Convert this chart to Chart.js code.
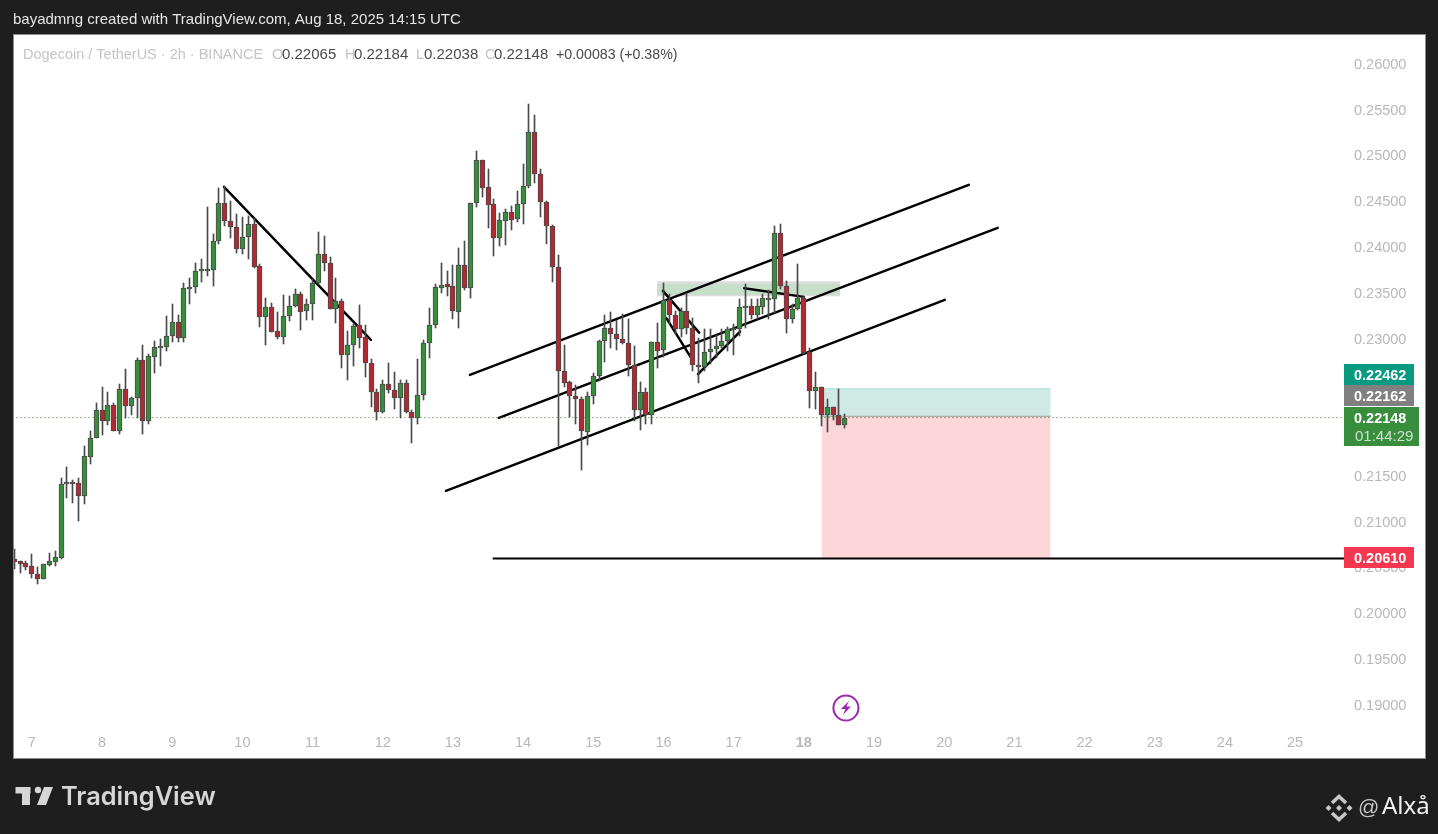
<!DOCTYPE html>
<html>
<head>
<meta charset="utf-8">
<title>Dogecoin / TetherUS</title>
<style>
  html, body { margin: 0; padding: 0; background: #1e1e1e; }
  canvas { display: block; }
</style>
<script src="https://cdn.jsdelivr.net/npm/chart.js@4/dist/chart.umd.min.js"></script>
</head>
<body>
<canvas id="chart" width="1438" height="834"></canvas>
<script>
// candles, 2h bars, oldest first
var opens = [.20602,.20580,.20558,.20526,.20438,.20390,.20543,.20576,.20619,.21421,.21446,.21432,.21296,.21722,.21923,.22229,.22115,.22284,.22006,.22458,.22279,.22360,.22775,.22115,.22814,.22917,.22924,.23037,.23190,.23022,.23561,.23579,.23747,.23758,.23758,.24075,.24490,.24293,.24228,.23987,.24118,.24260,.23802,.23245,.23354,.23092,.23026,.23256,.23365,.23496,.23310,.23387,.23616,.23933,.23834,.23332,.23419,.22830,.22939,.23157,.23026,.22742,.22426,.22207,.22513,.22447,.22360,.22524,.22207,.22142,.22393,.22961,.23157,.23568,.23605,.23583,.23299,.23813,.23561,.24490,.24959,.24664,.24479,.24114,.24300,.24391,.24315,.24479,.24675,.25265,.24806,.24501,.24239,.23791,.22655,.22535,.22382,.22349,.21989,.22382,.22600,.22983,.23125,.23059,.23004,.22967,.22727,.22229,.22426,.22174,.22972,.22884,.23430,.23267,.23114,.23310,.23125,.22720,.22705,.22862,.22895,.22928,.22983,.23114,.23114,.23357,.23365,.23273,.23360,.23441,.23441,.24162,.23583,.23223,.23332,.23452,.22869,.22437,.22483,.22172,.22265,.22172,.22065];
var highs = [.20711,.20583,.20580,.20656,.20518,.20547,.20671,.20692,.21490,.21610,.21468,.21490,.21839,.22003,.22309,.22483,.22429,.22309,.22516,.22680,.22374,.22797,.22942,.22841,.22986,.23008,.23259,.23390,.23270,.23616,.23671,.23838,.23878,.24449,.24151,.24654,.24679,.24515,.24373,.24340,.24351,.24332,.23824,.23455,.23401,.23303,.23488,.23477,.23554,.23518,.23445,.23660,.24176,.24133,.23903,.23674,.23445,.23095,.23168,.23379,.23161,.22786,.22458,.22557,.22746,.22647,.22557,.22557,.22229,.22789,.22994,.23346,.23605,.23838,.23750,.23816,.24002,.24078,.24490,.25061,.24959,.24864,.24537,.24384,.24427,.24460,.24624,.24916,.25571,.25454,.24861,.24512,.24249,.23925,.22942,.22549,.22502,.22374,.22426,.22640,.22994,.23270,.23303,.23215,.23281,.23226,.22931,.22535,.22476,.22972,.23182,.23619,.23496,.23313,.23350,.23507,.23240,.23022,.23117,.23114,.23048,.23114,.23139,.23168,.23441,.23605,.23441,.23441,.23496,.23546,.24242,.24260,.23641,.23387,.23824,.23477,.22906,.22644,.22483,.22349,.22265,.22458,.22184];
var lows = [.20499,.20455,.20488,.20401,.20335,.20390,.20529,.20529,.20608,.21275,.21220,.21020,.21209,.21646,.21923,.21959,.22069,.22003,.21974,.22145,.22178,.22145,.21974,.22083,.22636,.22713,.22877,.22975,.22975,.22975,.23393,.23513,.23633,.23696,.23590,.24042,.24242,.24114,.23950,.23933,.23885,.23786,.23142,.22945,.23081,.23011,.22956,.23204,.23360,.23109,.23215,.23218,.23612,.23750,.23332,.23186,.22694,.22563,.22716,.22913,.22596,.22268,.22126,.22196,.22421,.22247,.22142,.22196,.21875,.22076,.22338,.22804,.23131,.23507,.23481,.23229,.23131,.23540,.23459,.24453,.24562,.24223,.23917,.24027,.24038,.24201,.24289,.24267,.24660,.24715,.24343,.24048,.23633,.21839,.22487,.22159,.22083,.21580,.21847,.22295,.22549,.22753,.22913,.22891,.22956,.22607,.22112,.22011,.22076,.22083,.22694,.22814,.23172,.23059,.23030,.23062,.22658,.22530,.22658,.22731,.22804,.22906,.22877,.22836,.23037,.23131,.23223,.23223,.23277,.23223,.23295,.23550,.23070,.23186,.23321,.22841,.22251,.22247,.22061,.21995,.22120,.22065,.22038];
var closes = [.20576,.20554,.20521,.20445,.20390,.20547,.20580,.20624,.21421,.21443,.21435,.21296,.21727,.21923,.22229,.22115,.22284,.22006,.22458,.22279,.22360,.22775,.22115,.22819,.22917,.22928,.23037,.23190,.23022,.23561,.23579,.23747,.23769,.23768,.24075,.24490,.24293,.24228,.23987,.24118,.24260,.23797,.23245,.23354,.23087,.23026,.23256,.23365,.23496,.23299,.23387,.23616,.23933,.23834,.23332,.23419,.22830,.22939,.23146,.23015,.22742,.22426,.22207,.22513,.22447,.22360,.22524,.22207,.22142,.22393,.22961,.23157,.23572,.23594,.23579,.23310,.23813,.23561,.24490,.24959,.24660,.24474,.24114,.24304,.24391,.24311,.24479,.24675,.25265,.24806,.24501,.24239,.23791,.22655,.22530,.22382,.22349,.22000,.22382,.22600,.22983,.23125,.23059,.23004,.22967,.22727,.22229,.22426,.22174,.22972,.22880,.23430,.23267,.23114,.23310,.23125,.22720,.22705,.22862,.22895,.22928,.22983,.23114,.23125,.23354,.23365,.23273,.23365,.23452,.23452,.24162,.23583,.23223,.23332,.23452,.22852,.22437,.22480,.22172,.22265,.22172,.22065,.22148];

// axis labels
var dayLabels = ['7','8','9','10','11','12','13','14','15','16','17','18','19','20','21','22','23','24','25'];
var dayBars = [3,15,27,39,51,63,75,87,99,111,123,135,147,159,171,183,195,207,219];
var priceTicks = [.19,.195,.2,.205,.21,.215,.22,.225,.23,.235,.24,.245,.25,.255,.26];

// drawings: [bar, price, bar, price]
var trendLines = [
  [35.85,.24668,60.97,.22997],
  [77.9,.22614,163.2,.24689],
  [82.85,.22145,168.15,.2422],
  [73.8,.21348,159.1,.23434],
  [110.9,.23532,117.1,.23076],
  [111.5,.23234,115.7,.22803],
  [116.9,.22622,124.1,.23087],
  [124.8,.23561,135,.23466]
];
var stopLine = [81.8,.2061,228,.2061];
var zone = [109.9,.23619,141.2,.23488];
var positionBars = [138.1,177.2];
var targetPrice = .22462, entryPrice = .22162, stopPrice = .2061, lastPrice = .22148;

var uiFont = '"Liberation Sans", sans-serif';
var green = '#388e3c', red = '#b22833', edge = '#4a4a4a';

function seg(a) { return [{x:a[0],y:a[1]},{x:a[2],y:a[3]}]; }

function lineSet(data, color, width, order, extra) {
  return Object.assign({type:'line',data:data,borderColor:color,borderWidth:width,pointRadius:0,order:order,tension:0}, extra || {});
}

var datasets = [];
datasets.push(lineSet(seg([zone[0],zone[1],zone[2],zone[1]]),'#dcdcdc',3,30,{fill:{value:zone[3]},backgroundColor:'#c6dfc9'}));
datasets.push(lineSet(seg([zone[0],zone[3],zone[2],zone[3]]),'#dcdcdc',3,30));
datasets.push(lineSet(seg([positionBars[0],targetPrice,positionBars[1],targetPrice]),'#a3dcd2',1,29,{fill:{value:entryPrice},backgroundColor:'#cfeae5'}));
datasets.push(lineSet(seg([positionBars[0],entryPrice,positionBars[1],entryPrice]),'#a0a0a0',1,28,{fill:{value:stopPrice},backgroundColor:'#fbd5d8'}));
trendLines.forEach(function (t) { datasets.push(lineSet(seg(t),'#000000',2.5,20,{borderCapStyle:'round'})); });
datasets.push(lineSet(seg(stopLine),'#000000',2,20));
datasets.push({type:'bar',data:lows.map(function (l,i) { return {x:i,y:[l,highs[i]]}; }),backgroundColor:edge,barThickness:1,grouped:false,order:10});
datasets.push({type:'bar',data:opens.map(function (o,i) { return {x:i,y:[o,closes[i]]}; }),
  backgroundColor:opens.map(function (o,i) { return closes[i] >= o ? green : red; }),
  borderColor:edge,borderWidth:1,borderSkipped:false,barThickness:5,grouped:false,order:9});
datasets.push(lineSet(seg([-1,lastPrice,228,lastPrice]),'#2e7d32',1,5,{borderDash:[1,3]}));

function put(ctx, s, x, y, color, font, align) {
  ctx.fillStyle = color; ctx.font = font; ctx.textAlign = align || 'left'; ctx.textBaseline = 'middle';
  ctx.fillText(s, x, y);
}

var framePlugin = {
  id: 'frame',
  beforeDraw: function (chart) {
    var ctx = chart.ctx;
    ctx.save();
    ctx.fillStyle = '#1e1e1e'; ctx.fillRect(0,0,1438,834);
    ctx.fillStyle = '#8c8c8c'; ctx.fillRect(13,34,1413,725);
    ctx.fillStyle = '#ffffff'; ctx.fillRect(14,35,1411,723);
    ctx.restore();
  },
  // candles sit on whole pixels like the original
  beforeDatasetsDraw: function (chart) {
    chart.getSortedVisibleDatasetMetas().forEach(function (meta) {
      if (meta.type !== 'bar') return;
      var isBody = meta.order === 9;
      meta.data.forEach(function (el) {
        el.x = Math.round(el.x - 0.5) + 0.5;
        el.y = Math.round(el.y);
        el.base = Math.round(el.base);
        if (isBody && Math.abs(el.base - el.y) < 2) el.base = el.y + 2;
      });
    });
  },
  afterDraw: function (chart) {
    var ctx = chart.ctx, f14 = '14.5px ' + uiFont, f15 = '15px ' + uiFont;
    ctx.save();
    put(ctx,'bayadmng created with TradingView.com, Aug 18, 2025 14:15 UTC',13,20,'#e6e6e6',f15);

    put(ctx,'Dogecoin / TetherUS · 2h · BINANCE',23,55,'#c4c4c4',f14);
    [['O',272,'0.22065',282],['H',345,'0.22184',354],['L',416,'0.22038',424],['C',485,'0.22148',494]].forEach(function (r) {
      put(ctx,r[0],r[1],55,'#c4c4c4',f14);
      put(ctx,r[2],r[3],55,'#4a4a4a',f15);
    });
    put(ctx,'+0.00083 (+0.38%)',556,55,'#4a4a4a','14.2px ' + uiFont);

    // price tags on the axis
    var bold = 'bold 14.5px ' + uiFont;
    ctx.fillStyle = '#089981'; ctx.fillRect(1344,364,70,21);
    put(ctx,targetPrice.toFixed(5),1354,376,'#ffffff',bold);
    ctx.fillStyle = '#808080'; ctx.fillRect(1344,385,70,21);
    put(ctx,entryPrice.toFixed(5),1354,397,'#ffffff',bold);
    ctx.fillStyle = green; ctx.fillRect(1344,407,75,39);
    put(ctx,lastPrice.toFixed(5),1354,419,'#ffffff',bold);
    put(ctx,'01:44:29',1355,437,'#cfe0d0',f15);
    ctx.fillStyle = '#f7374f'; ctx.fillRect(1344,547,70,21);
    put(ctx,stopPrice.toFixed(5),1354,559,'#ffffff',bold);

    // event marker
    var ex = chart.scales.x.getPixelForValue(142.2), ey = 708;
    ctx.strokeStyle = '#9c27b0'; ctx.lineWidth = 2;
    ctx.beginPath(); ctx.arc(ex,ey,12.5,0,Math.PI*2); ctx.stroke();
    ctx.fillStyle = '#9c27b0';
    ctx.beginPath();
    ctx.moveTo(ex+3,ey-7); ctx.lineTo(ex-5,ey+1); ctx.lineTo(ex-0.5,ey+1); ctx.lineTo(ex-3,ey+7);
    ctx.lineTo(ex+5,ey-1.5); ctx.lineTo(ex+0.5,ey-1.5); ctx.closePath(); ctx.fill();

    // TradingView logo
    ctx.fillStyle = '#d6d6d6';
    ctx.fillRect(15.5,787,15,6.5); ctx.fillRect(22,787,8,18);
    ctx.beginPath(); ctx.arc(38,790,3.2,0,Math.PI*2); ctx.fill();
    ctx.beginPath(); ctx.moveTo(44,787); ctx.lineTo(53,787); ctx.lineTo(46,805); ctx.lineTo(37,805); ctx.closePath(); ctx.fill();
    put(ctx,'TradingView',61,797,'#d6d6d6','600 25.4px Inter, ' + uiFont);

    // watermark
    var cx = 1339, cy = 808;
    function diamond(x,y,r) { ctx.beginPath(); ctx.moveTo(x,y-r); ctx.lineTo(x+r,y); ctx.lineTo(x,y+r); ctx.lineTo(x-r,y); ctx.closePath(); ctx.fill(); }
    ctx.fillStyle = '#c8c8c8';
    diamond(cx,cy,3); diamond(cx-10.5,cy,3); diamond(cx+10.5,cy,3);
    ctx.strokeStyle = '#c8c8c8'; ctx.lineWidth = 3.5;
    ctx.beginPath(); ctx.moveTo(cx-7,cy-5); ctx.lineTo(cx,cy-11.5); ctx.lineTo(cx+7,cy-5); ctx.stroke();
    ctx.beginPath(); ctx.moveTo(cx-7,cy+5); ctx.lineTo(cx,cy+11.5); ctx.lineTo(cx+7,cy+5); ctx.stroke();
    put(ctx,'@',1358,808,'#c8c8c8','21px ' + uiFont);
    put(ctx,'Alxå',1382,807,'#f2f2f2','24px "Noto Sans", ' + uiFont);
    ctx.restore();
  }
};

new Chart(document.getElementById('chart'), {
  type: 'bar',
  data: { datasets: datasets },
  plugins: [framePlugin],
  options: {
    responsive: false,
    animation: false,
    events: [],
    layout: { padding: { left: 14, top: 35, right: 0, bottom: 0 } },
    plugins: { legend: { display: false }, tooltip: { enabled: false } },
    scales: {
      x: {
        type: 'linear', offset: false, min: -0.05, max: 227.36,
        grid: { display: false, drawTicks: false }, border: { display: false },
        afterBuildTicks: function (s) { s.ticks = dayBars.map(function (v) { return {value:v}; }); },
        afterFit: function (s) { s.height = 104; },
        ticks: {
          autoSkip: false, maxRotation: 0, padding: 4, color: '#b8b8b8',
          font: function (c) {
            var isMonthDay = c.tick && c.tick.value === 135;
            return { family: uiFont, size: 14.5, weight: isMonthDay ? 'bold' : 'normal' };
          },
          callback: function (v) { return dayLabels[dayBars.indexOf(v)]; }
        }
      },
      y: {
        position: 'right', min: 0.18736, max: 0.26326,
        grid: { display: false, drawTicks: false }, border: { display: false },
        afterBuildTicks: function (s) { s.ticks = priceTicks.map(function (v) { return {value:v}; }); },
        afterFit: function (s) { s.width = 94; },
        ticks: {
          autoSkip: false, padding: 10, color: '#b8b8b8', font: { family: uiFont, size: 14.5 },
          callback: function (v) { return v.toFixed(5); }
        }
      }
    }
  }
});
</script>
</body>
</html>
